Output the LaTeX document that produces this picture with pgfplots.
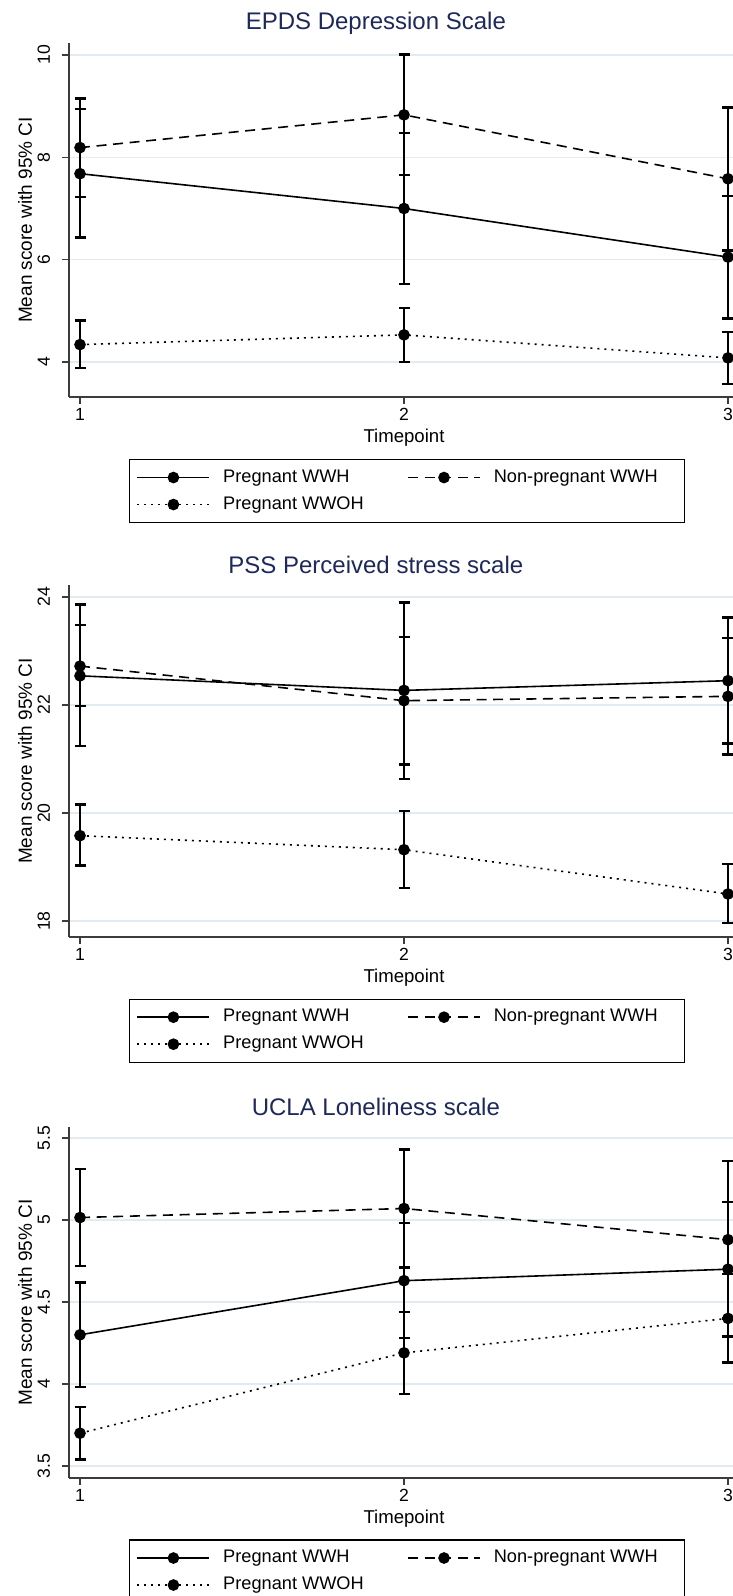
\documentclass[border=0pt]{standalone}
\usepackage{fontspec}
\setmainfont{Liberation Sans}
\usepackage{pgfplots}
\usepackage{pgfplotstable}
\pgfplotsset{compat=1.18}
\definecolor{titlec}{RGB}{30,40,90}
\definecolor{gridc}{RGB}{226,236,240}
\definecolor{axc}{RGB}{60,60,60}

% EPDS
\pgfplotstableread{
x y lo hi
1 7.68 6.43 8.94
2 7.00 5.53 8.47
3 6.05 4.85 7.25
}\epdsA
\pgfplotstableread{
x y lo hi
1 8.19 7.23 9.15
2 8.83 7.65 10.01
3 7.58 6.18 8.97
}\epdsB
\pgfplotstableread{
x y lo hi
1 4.34 3.88 4.81
2 4.53 4.00 5.06
3 4.08 3.57 4.59
}\epdsC
% PSS
\pgfplotstableread{
x y lo hi
1 22.54 21.24 23.86
2 22.27 20.63 23.90
3 22.45 21.29 23.62
}\pssA
\pgfplotstableread{
x y lo hi
1 22.72 21.98 23.48
2 22.08 20.90 23.26
3 22.16 21.08 23.24
}\pssB
\pgfplotstableread{
x y lo hi
1 19.58 19.03 20.16
2 19.32 18.61 20.04
3 18.50 17.96 19.06
}\pssC
% UCLA
\pgfplotstableread{
x y lo hi
1 4.30 3.98 4.62
2 4.63 4.28 4.98
3 4.70 4.29 5.11
}\uclaA
\pgfplotstableread{
x y lo hi
1 5.015 4.72 5.31
2 5.07 4.71 5.43
3 4.88 4.40 5.36
}\uclaB
\pgfplotstableread{
x y lo hi
1 3.70 3.54 3.86
2 4.19 3.94 4.44
3 4.40 4.13 4.67
}\uclaC

\pgfplotsset{
 every axis title shift=0pt,
 panel/.style={
  scale only axis, width=335pt,
  xmin=0.966, xmax=3.034,
  axis x line*=bottom, axis y line*=left,
  axis line style={axc, line width=0.6pt},
  xtick={1,2,3},
  tick style={axc, line width=0.6pt},
  major tick length=3.5pt,
  tick align=outside,
  ymajorgrids, grid style={gridc, line width=0.7pt},
  /pgf/number format/assume math mode=true,
  tick label style={font=\fontsize{8.8}{10}\selectfont},
  yticklabel style={rotate=90, anchor=south, inner sep=0pt, outer ysep=6pt},
  xticklabel style={anchor=north, inner sep=0pt, outer ysep=2pt},
  xlabel={Timepoint}, ylabel={Mean score with 95\% CI},
  every axis x label/.style={at={(axis description cs:0.5,-0.116)}, anchor=center, font=\fontsize{9.3}{11}\selectfont},
  every axis y label/.style={at={(axis description cs:-0.0657,0.5)}, rotate=90, anchor=center, font=\fontsize{9.5}{11}\selectfont},
  title style={at={(axis description cs:0.458,1.056)}, anchor=center, font=\fontsize{12}{14}\selectfont, text=titlec},
  legend columns=2,
  legend cell align=left,
  legend style={at={(axis description cs:0.0896,-0.175)}, anchor=north west, draw=black, line width=0.6pt,
    inner xsep=3.5pt, inner ysep=4.6pt, row sep=4.7pt,
    font=\fontsize{9.1}{11}\selectfont,
    nodes={inner sep=0pt, text height=6.8pt, text depth=2pt},
    /tikz/every odd column/.style={column sep=6.5pt}},
  legend image code/.code={\draw[mark repeat=2,mark phase=2,#1] plot coordinates {(0pt,0pt) (18pt,0pt) (36pt,0pt)};},
 },
 ser/.style={black, line width=0.8pt, mark=*, mark size=2.5pt, mark options={solid, fill=black},
   error bars/y dir=both, error bars/y explicit,
   error bars/error bar style={line width=1.2pt, solid},
   error bars/error mark options={rotate=90, line width=1.2pt, mark size=2.75pt, solid}},
 dsh/.style={dash pattern=on 5pt off 3.3pt},
 dtt/.style={dash pattern=on 1pt off 2.5pt},
}

\newcommand{\plotser}[2]{\addplot[ser,#2] table[x=x, y=y, y error plus expr=\thisrow{hi}-\thisrow{y}, y error minus expr=\thisrow{y}-\thisrow{lo}] {#1};}

\begin{document}
\begin{tikzpicture}
\useasboundingbox (0,0) rectangle (366.5pt,798pt);

\begin{axis}[panel, at={(34.5pt,599.5pt)}, anchor=south west, height=177pt,
  ymin=3.316, ymax=10.2345, ytick={4,6,8,10}, title={EPDS Depression Scale}]
\plotser{\epdsA}{solid}
\addlegendentry{\makebox[92pt][l]{Pregnant WWH}}
\plotser{\epdsB}{dsh}
\addlegendentry{\makebox[92pt][l]{Non-pregnant WWH}}
\plotser{\epdsC}{dtt}
\addlegendentry{\makebox[92pt][l]{Pregnant WWOH}}
\end{axis}

\begin{axis}[panel, at={(34.5pt,329.5pt)}, anchor=south west, height=176pt,
  ymin=17.704, ymax=24.222, ytick={18,20,22,24}, title={PSS Perceived stress scale}]
\plotser{\pssA}{solid}
\addlegendentry{\makebox[92pt][l]{Pregnant WWH}}
\plotser{\pssB}{dsh}
\addlegendentry{\makebox[92pt][l]{Non-pregnant WWH}}
\plotser{\pssC}{dtt}
\addlegendentry{\makebox[92pt][l]{Pregnant WWOH}}
\end{axis}

\begin{axis}[panel, at={(34.5pt,59pt)}, anchor=south west, height=175.5pt,
  ymin=3.427, ymax=5.567, ytick={3.5,4,4.5,5,5.5}, title={UCLA Loneliness scale}]
\plotser{\uclaA}{solid}
\addlegendentry{\makebox[92pt][l]{Pregnant WWH}}
\plotser{\uclaB}{dsh}
\addlegendentry{\makebox[92pt][l]{Non-pregnant WWH}}
\plotser{\uclaC}{dtt}
\addlegendentry{\makebox[92pt][l]{Pregnant WWOH}}
\end{axis}
\end{tikzpicture}
\end{document}
